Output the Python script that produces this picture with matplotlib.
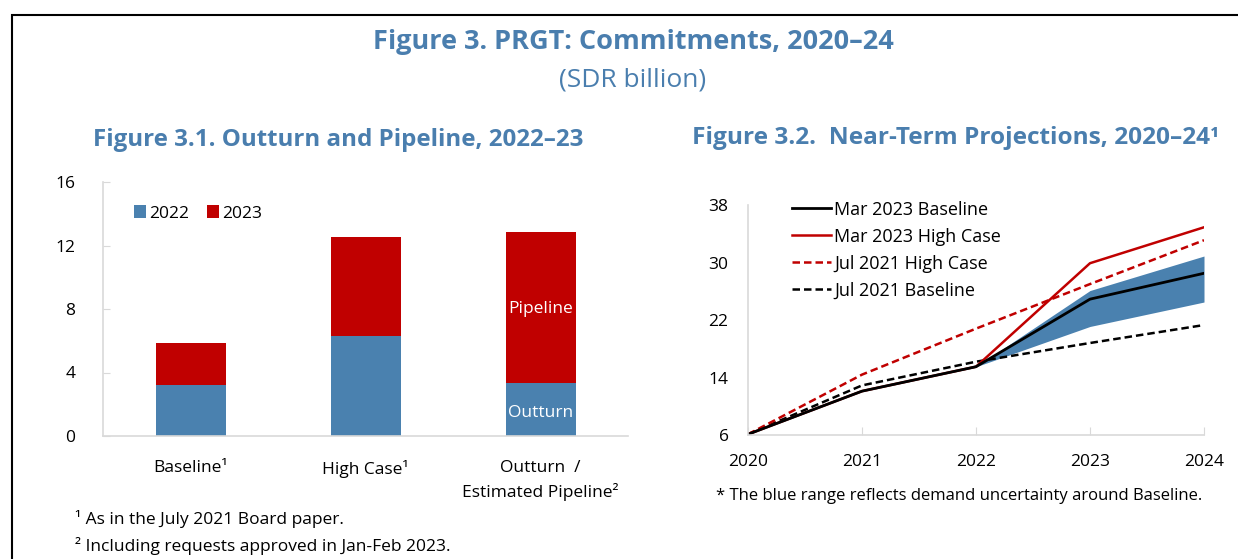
import matplotlib
matplotlib.use("Agg")
import matplotlib.pyplot as plt
from matplotlib.patches import Rectangle

plt.rcParams['font.family'] = ['Open Sans', 'DejaVu Sans']

# ---- data: Figure 3.1 ----
bar_categories = ["Baseline¹", "High Case¹", "Outturn  /\nEstimated Pipeline²"]
values_2022 = [3.2, 6.27, 3.33]
values_2023 = [2.65, 6.29, 9.54]
bar_yticks = [0, 4, 8, 12, 16]

# ---- data: Figure 3.2 ----
years = [2020, 2021, 2022, 2023, 2024]
mar23_baseline = [6.1, 12.1, 15.5, 24.9, 28.5]
mar23_high = [6.1, 12.1, 15.5, 29.9, 34.9]
jul21_high = [6.1, 14.4, 20.8, 27.0, 33.1]
jul21_baseline = [6.1, 12.9, 16.2, 18.8, 21.3]
band_years = [2022, 2023, 2024]
band_low = [15.5, 21.1, 24.5]
band_high = [15.5, 26.1, 30.9]
line_yticks = [6, 14, 22, 30, 38]

BLUE = '#4A81AF'
RED = '#C00000'
TITLE = '#4A7EAE'
GRID = '#D9D9D9'

W, H = 1238, 559
fig = plt.figure(figsize=(W / 100, H / 100), dpi=100)


def fx(x):
    return x / W


def fy(y):
    return 1 - y / H


# frame
fig.add_artist(Rectangle((fx(12), fy(600)), fx(1300), fy(15) - fy(600),
                         transform=fig.transFigure, fill=False,
                         edgecolor='black', linewidth=1.5))

fig.text(fx(633), fy(42), "Figure 3. PRGT: Commitments, 2020–24", ha='center', va='center',
         fontsize=19.5, fontweight='bold', color=TITLE)
fig.text(fx(633), fy(80), "(SDR billion)", ha='center', va='center',
         fontsize=19, color=TITLE)
fig.text(fx(338), fy(140), "Figure 3.1. Outturn and Pipeline, 2022–23", ha='center', va='center',
         fontsize=17.4, fontweight='bold', color=TITLE)
fig.text(fx(692), fy(138), "Figure 3.2.  Near-Term Projections, 2020–24¹", ha='left', va='center',
         fontsize=17.6, fontweight='bold', color=TITLE)

# ---- left chart ----
ax1 = fig.add_axes([fx(103), fy(436), fx(628) - fx(103), fy(182) - fy(436)])
xpos = list(range(len(bar_categories)))
ax1.bar(xpos, values_2022, width=0.4, color=BLUE, label='2022')
ax1.bar(xpos, values_2023, width=0.4, bottom=values_2022, color=RED, label='2023')
ax1.set_xlim(-0.5, 2.5)
ax1.set_ylim(0, 16)
ax1.set_yticks(bar_yticks)
ax1.set_xticks(xpos)
ax1.set_xticklabels(bar_categories, fontsize=12.5, linespacing=1.5)
ax1.tick_params(axis='x', length=0, pad=17)
ax1.tick_params(axis='y', direction='in', length=5, color=GRID, labelsize=12.5, pad=20)
for s in ['top', 'right']:
    ax1.spines[s].set_visible(False)
for s in ['left', 'bottom']:
    ax1.spines[s].set_color(GRID)
    ax1.spines[s].set_linewidth(1.2)
ax1.text(2, values_2022[2] / 2 - 0.2, "Outturn", ha='center', va='center', color='white', fontsize=12.5)
ax1.text(2, values_2022[2] + values_2023[2] / 2 - 0.1, "Pipeline", ha='center', va='center', color='white', fontsize=12.5)
ax1.legend(loc='upper left', bbox_to_anchor=(0.045, 0.935), ncol=2, frameon=False, fontsize=12.5,
           handlelength=0.7, handleheight=0.7, handletextpad=0.2, columnspacing=1.0,
           borderaxespad=0)

fig.text(fx(75), fy(519), "¹ As in the July 2021 Board paper.", ha='left', va='center', fontsize=12.5)
fig.text(fx(75), fy(546), "² Including requests approved in Jan-Feb 2023.", ha='left', va='center', fontsize=12.5)

# ---- right chart ----
ax2 = fig.add_axes([fx(748), fy(435), fx(1204) - fx(748), fy(205) - fy(435)])
ax2.fill_between(band_years, band_low, band_high, color=BLUE, linewidth=0)
l4, = ax2.plot(years, jul21_baseline, color='black', linestyle=(0, (3, 1.6)), linewidth=1.8)
l3, = ax2.plot(years, jul21_high, color=RED, linestyle=(0, (3, 1.6)), linewidth=1.8)
l2, = ax2.plot(years, mar23_high, color=RED, linewidth=1.8)
l1, = ax2.plot(years, mar23_baseline, color='black', linewidth=2.0)
ax2.set_xlim(2020, 2024)
ax2.set_ylim(6, 38)
ax2.set_xticks(years)
ax2.set_xticklabels([str(y) for y in years])
ax2.set_yticks(line_yticks)
ax2.tick_params(axis='x', direction='in', length=6, color=GRID, labelsize=12.5, pad=14)
ax2.tick_params(axis='y', direction='in', length=0, labelsize=12.5, pad=14)
for s in ['top', 'right']:
    ax2.spines[s].set_visible(False)
for s in ['left', 'bottom']:
    ax2.spines[s].set_color(GRID)
    ax2.spines[s].set_linewidth(1.2)
ax2.legend([l1, l2, l3, l4],
           ["Mar 2023 Baseline", "Mar 2023 High Case", "Jul 2021 High Case", "Jul 2021 Baseline"],
           loc='upper left', bbox_to_anchor=(0.08, 1.05), frameon=False, fontsize=13,
           handlelength=2.2, handletextpad=0.15, labelspacing=0.5, borderaxespad=0)

fig.text(fx(716), fy(496), "* The blue range reflects demand uncertainty around Baseline.",
         ha='left', va='center', fontsize=12)

fig.savefig("out.png", dpi=100)
